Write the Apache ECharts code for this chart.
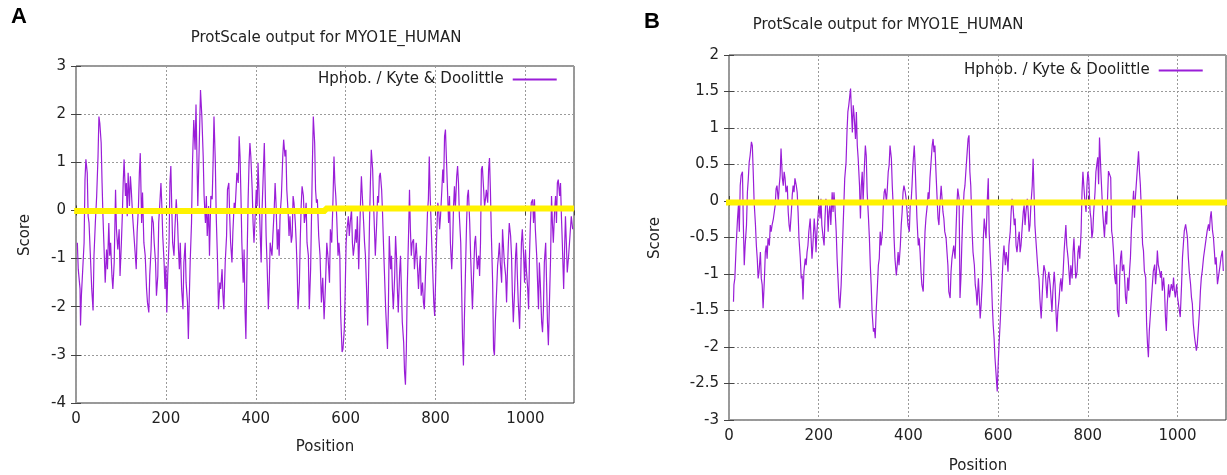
<!DOCTYPE html>
<html>
<head>
<meta charset="utf-8">
<script src="https://cdn.jsdelivr.net/npm/echarts@6/dist/echarts.min.js"></script>
<style>
  html, body { margin: 0; padding: 0; background: #fff; }
  #chart { width: 1227px; height: 475px; }
</style>
</head>
<body>
<div id="chart"></div>
<script>
// panel A: Kyte & Doolittle, window 9
const posA = [3,5,9,10,12,15,18,20,22,25,27,29,32,35,38,40,43,46,49,51,53,56,58,60,62,65,68,70,73,75,77,80,82,85,88,90,93,96,98,101,103,105,107,110,112,114,116,119,121,123,126,129,132,134,136,139,141,143,146,148,151,154,157,159,162,164,167,169,172,174,177,179,182,184,187,189,191,193,196,198,200,202,204,207,209,211,213,215,218,220,223,226,228,230,232,235,238,240,243,245,248,250,252,254,257,259,262,265,267,271,275,277,280,
  283,285,288,290,292,295,297,300,303,305,307,310,312,315,317,320,322,325,327,329,332,335,337,340,342,344,347,349,352,354,358,361,363,365,367,369,372,374,376,378,381,383,385,387,389,392,394,396,398,401,403,405,407,410,412,414,416,419,421,423,425,428,430,432,434,436,438,441,443,445,448,450,452,454,457,460,462,465,467,469,472,474,476,479,481,483,485,488,490,492,494,497,499,501,503,506,508,510,512,514,517,519,522,524,526,528,531,533,535,537,540,543,546,549,552,555,558,
  561,564,566,569,572,574,576,578,580,583,585,587,589,592,594,597,599,601,603,606,608,610,613,615,617,620,622,624,626,629,631,633,635,637,640,642,644,646,649,651,653,655,657,660,662,664,666,669,671,673,675,677,680,682,684,686,689,691,693,695,697,700,702,704,706,709,711,713,715,717,720,722,724,726,729,731,733,735,737,740,742,744,746,748,751,753,755,757,760,762,764,766,768,771,773,775,777,780,782,784,786,788,791,793,796,798,800,802,805,807,809,811,814,816,818,820,822,
  824,827,829,831,833,836,838,840,842,844,847,849,851,853,856,858,860,862,864,867,869,871,873,876,878,880,882,884,887,889,891,893,896,898,900,902,904,907,909,911,913,916,918,920,922,924,927,929,931,933,936,938,940,942,944,947,949,951,953,956,958,960,962,964,967,969,971,973,976,978,980,982,984,987,989,991,993,996,998,1000,1002,1005,1007,1009,1011,1013,1016,1018,1020,1022,1025,1027,1029,1031,1033,1036,1038,1040,1042,1045,1047,1049,1051,1053,1056,1058,1060,1062,1065,1067,1069,1071,1073,1076,1078,1080,1082,1085,1087,1089,1091,1093,1096,1098,1100,1102,1105];
const scoreA = [-0.67,-1.22,-1.63,-2.39,-1.77,-1.22,-0.67,0.64,1.06,0.78,-0.12,-0.26,-0.94,-1.63,-2.08,-0.94,-0.26,0.30,1.12,1.95,1.81,1.40,0.57,-0.12,-0.67,-1.50,-0.81,-1.22,-0.26,-0.94,-0.67,-1.36,-1.63,-1.08,0.43,-0.39,-0.81,-0.39,-1.36,-0.67,-0.12,0.57,1.06,0.30,0.57,-0.12,0.78,0.09,0.71,0.43,-0.12,-0.53,-0.94,-1.22,-0.46,0.09,0.78,1.19,-0.26,0.37,-0.67,-0.94,-1.63,-1.91,-2.12,-1.36,-0.81,-0.12,-0.26,-0.67,-1.08,-1.77,-1.36,-0.26,0.23,0.57,0.09,-0.53,-1.08,-1.63,-1.15,-2.12,-1.36,-0.67,0.57,0.92,0.09,-0.67,-0.94,-0.39,0.23,-0.26,-0.81,-1.22,-0.67,-1.63,-2.05,-1.08,-0.67,-1.50,-1.91,-2.67,-1.84,-1.08,-0.26,0.92,1.88,1.26,2.20,0.09,1.68,2.50,1.95,
  1.12,0.30,-0.26,0.30,-0.53,0.09,-0.94,0.30,0.23,0.99,1.95,0.99,-0.12,-1.08,-2.05,-1.50,-1.63,-1.22,-1.77,-2.05,-1.08,-0.53,0.43,0.57,-0.12,-0.67,-1.08,-0.46,0.16,0.02,0.78,0.57,1.54,1.12,0.30,-0.67,-1.50,-0.81,-2.05,-2.67,-0.81,0.23,0.99,1.40,1.12,0.43,-0.26,-0.67,-0.26,0.43,0.09,0.99,0.43,-0.53,-1.08,0.02,0.57,1.40,0.43,-0.53,-1.08,-2.05,-1.50,-0.67,-0.81,-0.94,-0.53,0.02,0.57,0.16,-0.81,-0.39,-0.94,-0.12,0.30,1.12,1.47,1.12,1.26,0.43,-0.05,-0.53,-0.12,-0.67,-0.53,0.30,0.16,-0.26,-0.67,-1.22,-2.05,-1.50,-0.60,0.09,0.50,0.30,-0.26,-0.12,0.16,-0.67,-0.94,-2.05,-1.22,-0.12,0.99,1.95,1.40,0.43,0.16,0.23,-0.53,-0.94,-1.91,-1.40,-2.26,-1.56,-0.67,
  -1.01,-1.50,-0.39,-0.67,0.30,1.12,0.57,0.30,-0.12,-0.94,-0.67,-0.94,-2.19,-2.94,-2.88,-2.46,-1.63,-0.67,-0.39,-0.12,-0.53,-0.26,0.02,-0.67,-0.94,-0.67,-0.39,-0.67,-0.12,-1.22,-0.53,0.16,0.71,0.30,-0.26,-0.67,-0.94,-1.50,-2.39,-1.36,-0.26,0.57,1.26,0.85,0.16,-0.39,-0.94,-0.26,0.30,0.16,0.71,0.78,0.43,-0.05,-0.67,-1.22,-2.05,-2.46,-2.88,-2.05,-0.53,-1.22,-0.94,-1.63,-2.05,-1.36,-0.53,-0.94,-1.63,-2.12,-1.29,-0.94,-1.63,-2.32,-2.74,-3.36,-3.62,-2.88,-1.63,-0.46,0.43,-0.39,-0.94,-0.67,-0.60,-1.22,-0.94,-0.67,-1.22,-1.63,-1.22,-0.94,-1.77,-1.50,-1.91,-2.05,-1.50,-0.67,-0.05,0.23,1.12,0.30,-0.53,-1.08,-1.91,-2.19,-1.50,-0.67,0.16,0.02,-0.39,-0.12,0.43,0.85,0.57,1.54,1.68,
  1.12,0.30,-0.26,0.30,-0.67,-1.22,-0.67,0.09,0.50,0.02,0.71,0.92,0.57,-0.12,-0.67,-1.63,-2.67,-3.22,-2.32,-1.08,-0.26,0.30,0.43,-0.26,-0.94,-1.50,-2.05,-1.50,-0.67,-0.53,-0.94,-1.22,-0.94,-1.36,-0.67,0.85,0.92,0.43,0.09,0.23,0.43,0.16,0.85,1.09,0.43,-0.46,-1.50,-2.88,-3.01,-2.32,-1.63,-1.15,-0.94,-0.67,-1.08,-1.50,-0.39,-0.74,-1.08,-1.36,-1.91,-1.22,-0.67,-0.26,-0.53,-0.94,-1.77,-2.32,-1.63,-0.94,-0.67,-1.36,-1.91,-2.46,-1.63,-0.67,-0.39,-0.94,-1.50,-0.81,-1.22,-1.63,-2.05,-0.94,-0.26,0.16,0.23,-0.26,0.23,-0.39,-0.94,-1.50,-2.05,-1.08,-1.50,-2.32,-2.53,-2.05,-1.08,-0.67,-1.50,-2.32,-2.80,-2.05,-0.94,0.30,-0.26,-0.67,0.02,0.30,-0.26,0.57,0.64,0.30,0.57,-0.12,-0.67,-1.63,-0.81,-0.12,-0.67,-1.29,-0.94,-0.67,-0.39,-0.12,-0.39];

// panel B: Kyte & Doolittle, wider window
const posB = [10,11,13,16,19,21,23,25,27,30,32,34,36,39,41,43,45,47,50,52,54,56,59,61,63,65,67,70,72,74,76,79,81,83,85,87,90,92,94,96,99,101,103,105,107,110,112,114,116,119,121,123,125,127,130,132,134,136,139,141,143,145,147,150,152,154,156,159,161,163,165,167,170,172,174,176,178,181,183,185,187,190,192,194,196,199,201,203,205,207,210,212,214,216,219,221,223,225,227,230,232,234,236,239,241,243,245,247,250,252,254,256,258,261,263,265,267,
  271,273,275,277,279,282,284,286,288,291,293,295,297,299,302,304,306,308,311,313,315,317,319,322,324,326,328,331,333,335,337,339,342,344,346,348,351,353,355,357,359,362,364,366,368,370,373,375,377,379,382,384,386,388,390,393,395,397,399,402,404,406,408,410,413,415,417,419,422,424,426,428,430,433,435,437,439,442,444,446,448,450,453,455,457,459,462,464,466,468,470,473,475,477,479,481,484,486,488,490,493,495,497,499,501,504,506,508,510,513,515,517,519,521,524,526,528,530,533,535,537,539,
  542,544,547,549,551,553,556,558,560,562,565,567,569,571,573,576,578,580,582,585,587,589,591,593,596,598,600,602,605,607,609,611,613,616,618,620,622,624,627,629,631,633,636,638,640,642,645,647,649,651,653,656,658,660,662,665,667,669,671,673,676,678,680,682,685,687,689,691,693,696,698,700,702,705,707,709,711,713,716,718,720,722,725,727,729,731,733,736,738,740,742,745,747,749,751,753,756,758,760,762,765,767,769,771,773,776,778,780,782,785,787,789,791,793,796,798,800,802,805,807,809,811,813,816,818,
  822,824,826,829,831,833,835,837,840,842,844,846,849,851,853,855,857,860,862,864,866,869,871,873,875,877,880,882,884,886,889,891,893,895,897,900,902,904,906,909,911,913,915,917,920,922,924,926,929,931,933,935,937,940,942,944,946,949,951,953,955,957,960,962,964,966,969,971,973,975,977,980,982,984,986,989,991,993,995,998,1000,1002,1004,1006,1009,1011,1013,1015,1018,1020,1022,1024,1026,1029,1031,1033,1035,1038,1040,1042,1044,1046,1049,1051,1053,1055,1058,1060,1062,1064,1066,1069,1071,1073,1075,1078,1080,1082,1084,1086,1089,1091,1093,1095,1097,1100,1102];
const scoreB = [-1.38,-1.15,-1.06,-0.61,-0.24,-0.06,-0.42,0.21,0.35,0.40,-0.33,-0.88,-0.61,-0.33,0.12,0.30,0.53,0.62,0.81,0.76,0.40,-0.01,-0.33,-0.61,-0.79,-1.06,-0.97,-0.70,-1.06,-1.15,-1.47,-1.06,-0.70,-0.61,-0.79,-0.51,-0.61,-0.33,-0.42,-0.33,-0.24,-0.15,-0.06,0.17,0.21,-0.01,0.21,0.35,0.72,0.31,0.21,0.40,0.31,0.12,0.21,-0.15,-0.33,-0.42,-0.15,0.08,0.21,0.12,0.31,0.21,0.12,-0.15,-0.51,-0.79,-1.06,-1.02,-1.35,-0.97,-0.79,-0.88,-0.70,-0.61,-0.42,-0.24,-0.51,-0.79,-0.61,-0.24,-0.42,-0.70,-0.42,-0.15,-0.06,-0.24,0.03,-0.33,-0.51,-0.61,-0.24,0.03,-0.06,-0.42,-0.15,-0.06,-0.33,0.12,-0.15,0.12,-0.06,-0.42,-0.79,-1.06,-1.33,-1.47,-1.15,-0.79,-0.42,-0.06,0.31,0.53,0.94,1.22,1.31,
  1.54,1.22,0.94,1.31,1.17,0.85,1.22,0.76,0.58,0.21,-0.24,0.21,0.40,-0.01,0.49,0.76,0.62,0.12,-0.24,-0.51,-0.88,-1.15,-1.52,-1.79,-1.74,-1.88,-1.52,-1.15,-0.88,-0.79,-0.42,-0.61,-0.42,-0.06,0.12,0.17,-0.01,0.17,0.40,0.49,0.76,0.58,0.21,-0.06,-0.51,-0.79,-1.02,-0.88,-0.70,-0.88,-0.61,-0.33,-0.15,0.12,0.21,0.12,0.03,-0.15,-0.33,-0.42,-0.06,-0.01,0.21,0.49,0.76,0.49,0.12,-0.24,-0.61,-0.51,-0.70,-0.97,-1.15,-1.24,-0.79,-0.42,-0.24,-0.06,0.12,0.03,0.31,0.49,0.76,0.85,0.67,0.76,0.31,0.03,-0.24,-0.33,-0.06,0.21,0.03,-0.15,-0.24,-0.42,-0.51,-0.70,-0.88,-1.24,-1.33,-0.97,-0.79,-0.70,-0.61,-0.79,-0.42,-0.06,0.17,0.03,-1.33,-1.06,-0.61,-0.24,0.12,0.21,0.40,0.58,0.85,0.90,0.40,0.21,
  -0.42,-0.70,-0.88,-1.15,-1.24,-1.43,-1.06,-1.33,-1.61,-1.43,-1.06,-0.51,-0.24,-0.38,-0.51,0.03,0.31,-0.42,-0.70,-1.06,-1.43,-1.70,-1.88,-2.15,-2.43,-2.61,-2.25,-1.97,-1.61,-1.33,-1.06,-0.79,-0.61,-0.88,-0.70,-0.79,-0.97,-0.61,-0.42,-0.15,0.03,-0.06,-0.33,-0.24,-0.61,-0.70,-0.51,-0.42,-0.70,-0.61,-0.42,-0.15,-0.06,-0.33,-0.15,0.03,-0.15,-0.42,-0.33,-0.06,0.21,0.58,0.12,-0.33,-0.61,-0.79,-0.97,-1.06,-1.33,-1.61,-1.33,-1.06,-0.88,-0.97,-1.15,-1.33,-1.06,-0.97,-1.15,-1.33,-1.52,-1.24,-0.97,-1.15,-1.52,-1.79,-1.52,-1.33,-1.15,-1.06,-1.24,-0.97,-0.70,-0.51,-0.33,-0.61,-0.79,-0.97,-1.15,-0.88,-1.06,-0.70,-0.51,-0.79,-1.06,-0.97,-0.70,-0.61,-0.79,-0.42,0.12,0.40,0.21,0.03,-0.15,0.21,0.40,0.31,-0.15,-0.24,-0.51,-0.42,-0.15,0.12,0.40,
  0.60,0.23,0.87,0.41,0.14,-0.14,-0.32,-0.50,-0.14,-0.32,0.05,0.41,0.41,0.32,-0.41,-0.50,-0.68,-1.05,-1.14,-0.87,-1.50,-1.59,-1.05,-0.77,-0.68,-0.96,-0.87,-1.05,-1.32,-1.41,-1.05,-1.23,-0.96,-0.77,-0.41,-0.05,0.14,-0.23,0.05,0.32,0.50,0.68,0.41,0.23,-0.23,-0.59,-0.68,-0.96,-1.05,-1.68,-1.96,-2.14,-1.78,-1.50,-1.32,-1.14,-0.96,-0.87,-1.14,-0.96,-0.68,-0.87,-0.96,-1.05,-0.96,-1.23,-1.05,-1.23,-1.59,-1.78,-1.41,-1.14,-1.32,-1.23,-1.14,-1.23,-1.05,-1.23,-1.32,-1.14,-1.32,-1.41,-1.50,-1.59,-1.14,-0.77,-0.59,-0.41,-0.32,-0.41,-0.50,-0.77,-0.96,-1.14,-1.32,-1.41,-1.68,-1.87,-1.96,-2.05,-1.96,-1.78,-1.50,-1.23,-1.05,-0.96,-0.77,-0.77,-0.59,-0.50,-0.41,-0.32,-0.41,-0.23,-0.14,-0.41,-0.50,-0.68,-0.87,-0.77,-1.14,-1.05,-0.96,-0.87,-0.77,-0.68,-0.96];

// yellow zero reference lines
const zeroPosA = [-4, 555, 555, 1108];
const zeroValA = [-0.01, -0.01, 0.04, 0.04];
const zeroPosB = [-12, 1115];
const zeroValB = [-0.02, -0.02];

const seriesName = "Hphob. / Kyte & Doolittle";
const titleText = "ProtScale output for MYO1E_HUMAN";

const pair = (xs, ys) => xs.map((x, i) => [x, ys[i]]);

const chart = echarts.init(document.getElementById("chart"), null, { renderer: "canvas" });

const FONT = "DejaVu Sans";
const tickColor = "#444";
const gridLine = { show: true, lineStyle: { color: "#9a9a9a", width: 1, type: [2, 2] } };

function xAxisFor(gi, top) {
  return {
    type: "value", gridIndex: gi, position: top ? "top" : "bottom",
    min: 0, max: 1108, interval: 200,
    axisLine: { show: false },
    axisTick: { show: true, inside: true, length: 5, lineStyle: { color: tickColor } },
    axisLabel: top ? { show: false } : {
      show: true, showMaxLabel: false, color: "#222", fontFamily: FONT, fontSize: 15, margin: 9,
      formatter: v => String(v)
    },
    splitLine: top ? { show: false } : gridLine
  };
}
function yAxisFor(gi, right, min, max, step) {
  return {
    type: "value", gridIndex: gi, position: right ? "right" : "left",
    min: min, max: max, interval: step,
    axisLine: { show: false },
    axisTick: { show: true, inside: true, length: 5, lineStyle: { color: tickColor } },
    axisLabel: right ? { show: false } : {
      show: true, color: "#222", fontFamily: FONT, fontSize: 15, margin: 10,
      formatter: v => String(v)
    },
    splitLine: right ? { show: false } : gridLine
  };
}

function legendAt(left, top) {
  return {
    left: left, top: top, align: "right", icon: "rect", itemWidth: 44, itemHeight: 2, itemGap: 0,
    data: [seriesName], selectedMode: false,
    textStyle: { fontFamily: FONT, fontSize: 15, color: "#222", padding: [0, 4, 0, 0] }
  };
}

const option = {
  backgroundColor: "#fff",
  animation: false,
  grid: [
    { left: 76, top: 66, width: 498, height: 337, show: true, borderColor: "#333", borderWidth: 1, backgroundColor: "transparent" },
    { left: 729, top: 55, width: 497, height: 365, show: true, borderColor: "#333", borderWidth: 1, backgroundColor: "transparent" }
  ],
  xAxis: [xAxisFor(0, false), xAxisFor(1, false), xAxisFor(0, true), xAxisFor(1, true)],
  yAxis: [yAxisFor(0, false, -4, 3, 1), yAxisFor(1, false, -3, 2, 0.5), yAxisFor(0, true, -4, 3, 1), yAxisFor(1, true, -3, 2, 0.5)],
  legend: [legendAt(313, 67), legendAt(959, 58)],
  series: [
    {
      name: seriesName, type: "line", xAxisIndex: 0, yAxisIndex: 0,
      data: pair(posA, scoreA), symbol: "none", showSymbol: false,
      lineStyle: { color: "#9a1ed8", width: 1.2 }, itemStyle: { color: "#9a1ed8" }
    },
    {
      name: seriesName, type: "line", xAxisIndex: 1, yAxisIndex: 1,
      data: pair(posB, scoreB), symbol: "none", showSymbol: false,
      lineStyle: { color: "#9a1ed8", width: 1.2 }, itemStyle: { color: "#9a1ed8" }
    },
    {
      name: "zeroA", type: "line", xAxisIndex: 0, yAxisIndex: 0, clip: false,
      data: pair(zeroPosA, zeroValA), symbol: "none",
      lineStyle: { color: "#fff200", width: 6 }, silent: true
    },
    {
      name: "zeroB", type: "line", xAxisIndex: 1, yAxisIndex: 1, clip: false,
      data: pair(zeroPosB, zeroValB), symbol: "none",
      lineStyle: { color: "#fff200", width: 6 }, silent: true
    }
  ],
  graphic: [
    { type: "text", x: 19, y: 17, style: { text: "A", font: "bold 22px 'Liberation Sans'", fill: "#000", align: "center", verticalAlign: "middle" } },
    { type: "text", x: 326, y: 38, style: { text: titleText, font: "15px '" + FONT + "'", fill: "#222", align: "center", verticalAlign: "middle" } },
    { type: "text", x: 25, y: 235, rotation: Math.PI / 2, style: { text: "Score", font: "15px '" + FONT + "'", fill: "#222", align: "center", verticalAlign: "middle" } },
    { type: "text", x: 325, y: 447, style: { text: "Position", font: "15px '" + FONT + "'", fill: "#222", align: "center", verticalAlign: "middle" } },
    { type: "text", x: 652, y: 22, style: { text: "B", font: "bold 22px 'Liberation Sans'", fill: "#000", align: "center", verticalAlign: "middle" } },
    { type: "text", x: 888, y: 25, style: { text: titleText, font: "15px '" + FONT + "'", fill: "#222", align: "center", verticalAlign: "middle" } },
    { type: "text", x: 655, y: 238, rotation: Math.PI / 2, style: { text: "Score", font: "15px '" + FONT + "'", fill: "#222", align: "center", verticalAlign: "middle" } },
    { type: "text", x: 978, y: 466, style: { text: "Position", font: "15px '" + FONT + "'", fill: "#222", align: "center", verticalAlign: "middle" } }
  ]
};

chart.setOption(option);
</script>
</body>
</html>
